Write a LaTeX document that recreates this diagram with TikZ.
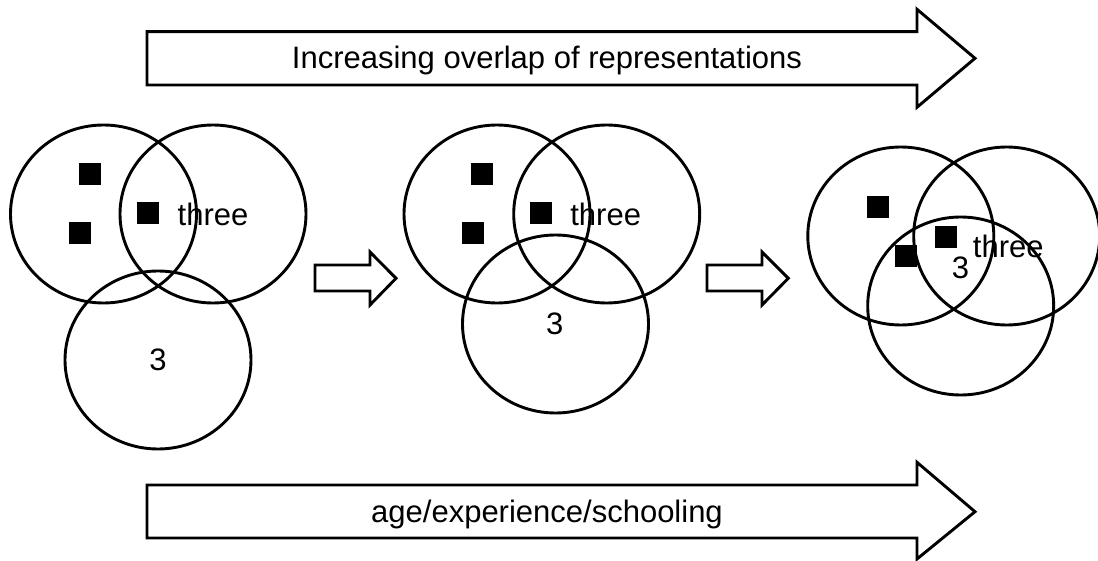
\documentclass[tikz,border=0pt]{standalone}
\usepackage{fontspec}
\setmainfont{Liberation Sans}
\usetikzlibrary{shapes.geometric}
\begin{document}
\begin{tikzpicture}[x=1pt,y=-1pt,
  ring/.style={ellipse,draw=black,line width=2.9pt,minimum width=186pt,minimum height=178pt,inner sep=0pt},
  sq/.style={fill=black,minimum size=22pt,inner sep=0pt,rectangle},
  lbl/.style={inner sep=0pt,font=\fontsize{31}{36}\selectfont},
  blockarrow/.style={draw=black,line width=2.9pt,line join=miter,fill=white}]
\useasboundingbox (0,0) rectangle (1098,561);
% big arrows
\draw[blockarrow] (147,31.7) -- (917,31.7) -- (917,9.3) -- (975,58.3) -- (917,107.3) -- (917,85) -- (147,85) -- cycle;
\node[lbl] (toptext) at (547,60.5) {Increasing overlap of representations};
\draw[blockarrow] (147,485) -- (917,485) -- (917,462.3) -- (975,511.7) -- (917,559) -- (917,538) -- (147,538) -- cycle;
\node[lbl] (bottext) at (547,514) {age/experience/schooling};
% small arrows
\draw[blockarrow] (315,265) -- (370,265) -- (370,252) -- (396,278.3) -- (370,305) -- (370,291) -- (315,291) -- cycle;
\draw[blockarrow] (707,265) -- (762,265) -- (762,252) -- (788.3,278.3) -- (762,305) -- (762,291) -- (707,291) -- cycle;
% group 1
\node[ring] (a1) at (103.5,214) {};
\node[ring] (b1) at (213,214) {};
\node[ring] (c1) at (158,360) {};
\node[sq] (a1s1) at (89.5,174) {};
\node[sq] (a1s2) at (79.7,233) {};
\node[sq] (a1s3) at (147.5,213) {};
\node[lbl] (t1) at (213,214) {three};
\node[lbl] (n1) at (158,360) {3};
% group 2
\node[ring] (a2) at (497,214) {};
\node[ring] (b2) at (606.7,214) {};
\node[ring] (c2) at (555.5,324) {};
\node[sq] (a2s1) at (482.3,174) {};
\node[sq] (a2s2) at (472.7,233) {};
\node[sq] (a2s3) at (540.7,213) {};
\node[lbl] (t2) at (605.7,214) {three};
\node[lbl] (n2) at (554.7,323.5) {3};
% group 3
\node[ring] (a3) at (900.8,236) {};
\node[ring] (b3) at (1006.7,236) {};
\node[ring] (c3) at (960.7,306) {};
\node[sq] (a3s1) at (877.5,207.3) {};
\node[sq] (a3s2) at (906.3,256.3) {};
\node[sq] (a3s3) at (945.7,236.8) {};
\node[lbl] (t3) at (1008.3,246.5) {three};
\node[lbl] (n3) at (960.5,268) {3};
\end{tikzpicture}
\end{document}
